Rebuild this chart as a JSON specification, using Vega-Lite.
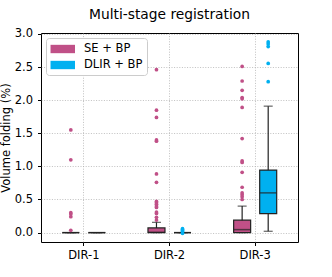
{
  "$schema": "https://vega.github.io/schema/vega-lite/v6.json",
  "width": 257,
  "height": 209,
  "autosize": {"type": "none"},
  "padding": {"left": 41, "top": 33, "right": 34, "bottom": 35},
  "title": {"text": "Multi-stage registration", "fontSize": 13.8, "fontWeight": "normal", "font": "DejaVu Sans", "color": "#000", "offset": 6, "anchor": "middle"},
  "datasets": {
    "boxes": [
      {"dir": "DIR-1", "method": "SE + BP", "lower": 0, "q1": 0, "median": 0, "q3": 0, "upper": 0},
      {"dir": "DIR-1", "method": "DLIR + BP", "lower": 0, "q1": 0, "median": 0, "q3": 0, "upper": 0},
      {"dir": "DIR-2", "method": "SE + BP", "lower": 0, "q1": 0, "median": 0.005, "q3": 0.07, "upper": 0.155},
      {"dir": "DIR-2", "method": "DLIR + BP", "lower": 0, "q1": 0, "median": 0, "q3": 0, "upper": 0},
      {"dir": "DIR-3", "method": "SE + BP", "lower": 0, "q1": 0, "median": 0.045, "q3": 0.187, "upper": 0.40},
      {"dir": "DIR-3", "method": "DLIR + BP", "lower": 0.02, "q1": 0.287, "median": 0.60, "q3": 0.945, "upper": 1.91}
    ],
    "outliers": [
      {"dir": "DIR-1", "method": "SE + BP", "value": 1.55},
      {"dir": "DIR-1", "method": "SE + BP", "value": 1.10},
      {"dir": "DIR-1", "method": "SE + BP", "value": 0.30},
      {"dir": "DIR-1", "method": "SE + BP", "value": 0.28},
      {"dir": "DIR-1", "method": "SE + BP", "value": 0.24},
      {"dir": "DIR-1", "method": "SE + BP", "value": 0.035},
      {"dir": "DIR-2", "method": "SE + BP", "value": 2.46},
      {"dir": "DIR-2", "method": "SE + BP", "value": 1.85},
      {"dir": "DIR-2", "method": "SE + BP", "value": 1.74},
      {"dir": "DIR-2", "method": "SE + BP", "value": 1.40},
      {"dir": "DIR-2", "method": "SE + BP", "value": 1.38},
      {"dir": "DIR-2", "method": "SE + BP", "value": 0.886},
      {"dir": "DIR-2", "method": "SE + BP", "value": 0.76},
      {"dir": "DIR-2", "method": "SE + BP", "value": 0.47},
      {"dir": "DIR-2", "method": "SE + BP", "value": 0.45},
      {"dir": "DIR-2", "method": "SE + BP", "value": 0.43},
      {"dir": "DIR-2", "method": "SE + BP", "value": 0.40},
      {"dir": "DIR-2", "method": "SE + BP", "value": 0.38},
      {"dir": "DIR-2", "method": "SE + BP", "value": 0.31},
      {"dir": "DIR-2", "method": "SE + BP", "value": 0.29},
      {"dir": "DIR-2", "method": "SE + BP", "value": 0.23},
      {"dir": "DIR-2", "method": "SE + BP", "value": 0.19},
      {"dir": "DIR-2", "method": "DLIR + BP", "value": 0.06},
      {"dir": "DIR-2", "method": "DLIR + BP", "value": 0.045},
      {"dir": "DIR-2", "method": "DLIR + BP", "value": 0.03},
      {"dir": "DIR-2", "method": "DLIR + BP", "value": 0.015},
      {"dir": "DIR-2", "method": "DLIR + BP", "value": -0.01},
      {"dir": "DIR-3", "method": "SE + BP", "value": 2.51},
      {"dir": "DIR-3", "method": "SE + BP", "value": 2.29},
      {"dir": "DIR-3", "method": "SE + BP", "value": 2.15},
      {"dir": "DIR-3", "method": "SE + BP", "value": 2.04},
      {"dir": "DIR-3", "method": "SE + BP", "value": 2.02},
      {"dir": "DIR-3", "method": "SE + BP", "value": 1.89},
      {"dir": "DIR-3", "method": "SE + BP", "value": 1.42},
      {"dir": "DIR-3", "method": "SE + BP", "value": 1.083},
      {"dir": "DIR-3", "method": "SE + BP", "value": 1.06},
      {"dir": "DIR-3", "method": "SE + BP", "value": 0.91},
      {"dir": "DIR-3", "method": "SE + BP", "value": 0.685},
      {"dir": "DIR-3", "method": "SE + BP", "value": 0.60},
      {"dir": "DIR-3", "method": "SE + BP", "value": 0.57},
      {"dir": "DIR-3", "method": "SE + BP", "value": 0.54},
      {"dir": "DIR-3", "method": "SE + BP", "value": 0.50},
      {"dir": "DIR-3", "method": "DLIR + BP", "value": 2.88},
      {"dir": "DIR-3", "method": "DLIR + BP", "value": 2.85},
      {"dir": "DIR-3", "method": "DLIR + BP", "value": 2.81},
      {"dir": "DIR-3", "method": "DLIR + BP", "value": 2.556},
      {"dir": "DIR-3", "method": "DLIR + BP", "value": 2.28}
    ]
  },
  "config": {
    "font": "DejaVu Sans",
    "view": {"stroke": "#000", "strokeWidth": 1},
    "axis": {
      "labelFont": "DejaVu Sans", "labelFontSize": 11.5, "labelColor": "#000",
      "titleFont": "DejaVu Sans", "titleFontSize": 11.5, "titleFontWeight": "normal", "titleColor": "#000",
      "tickColor": "#000", "tickSize": 3.5, "tickWidth": 1, "domain": false,
      "grid": true, "gridColor": "#b0b0b0", "gridDash": [1, 1.6], "gridWidth": 0.8
    },
    "axisY": {"labelPadding": 5, "titlePadding": 3, "labelOverlap": false},
    "axisX": {"labelAngle": 0, "labelPadding": 4}
  },
  "encoding": {
    "x": {"field": "dir", "type": "nominal", "title": null,
          "scale": {"domain": ["DIR-1", "DIR-2", "DIR-3"], "paddingInner": 0, "paddingOuter": 0}},
    "xOffset": {"field": "method", "type": "nominal",
                "scale": {"domain": ["SE + BP", "DLIR + BP"], "paddingInner": 0, "paddingOuter": 0.644}}
  },
  "layer": [
    {
      "data": {"name": "boxes"},
      "mark": {"type": "rule", "color": "#222", "strokeWidth": 1.2},
      "encoding": {
        "y": {"field": "lower", "type": "quantitative", "title": "Volume folding (%)",
              "scale": {"domain": [-0.142, 3.015], "nice": false, "zero": false},
              "axis": {"values": [0, 0.5, 1, 1.5, 2, 2.5, 3], "format": ".1f", "labelOverlap": false}},
        "y2": {"field": "upper"}
      }
    },
    {
      "data": {"name": "boxes"},
      "mark": {"type": "tick", "orient": "horizontal", "size": 9, "thickness": 1.2, "color": "#222"},
      "encoding": {"y": {"field": "lower", "type": "quantitative", "title": "Volume folding (%)",
                         "axis": {"values": [0, 0.5, 1, 1.5, 2, 2.5, 3], "format": ".1f", "labelOverlap": false}}}
    },
    {
      "data": {"name": "boxes"},
      "mark": {"type": "tick", "orient": "horizontal", "size": 9, "thickness": 1.2, "color": "#222"},
      "encoding": {"y": {"field": "upper", "type": "quantitative", "title": "Volume folding (%)",
                         "axis": {"values": [0, 0.5, 1, 1.5, 2, 2.5, 3], "format": ".1f", "labelOverlap": false}}}
    },
    {
      "data": {"name": "boxes"},
      "mark": {"type": "bar", "width": 17, "stroke": "#222", "strokeWidth": 1.2, "opacity": 1},
      "encoding": {
        "y": {"field": "q1", "type": "quantitative", "title": "Volume folding (%)",
              "axis": {"values": [0, 0.5, 1, 1.5, 2, 2.5, 3], "format": ".1f", "labelOverlap": false}},
        "y2": {"field": "q3"},
        "color": {"field": "method", "type": "nominal",
                  "scale": {"domain": ["SE + BP", "DLIR + BP"], "range": ["#c05087", "#00b0f0"]},
                  "legend": {"title": null, "orient": "top-left", "offset": 5, "padding": 4, "rowPadding": 3,
                             "symbolType": "M-0.96,-0.62H2.67V0.62H-0.96Z", "symbolSize": 182,
                             "symbolStrokeWidth": 0, "symbolOpacity": 1,
                             "labelFont": "DejaVu Sans", "labelFontSize": 11.5, "labelColor": "#000", "labelOffset": 20,
                             "strokeColor": "#cccccc", "fillColor": "#ffffff", "cornerRadius": 3}}
      }
    },
    {
      "data": {"name": "boxes"},
      "mark": {"type": "tick", "orient": "horizontal", "size": 17, "thickness": 1.5, "color": "#222"},
      "encoding": {"y": {"field": "median", "type": "quantitative", "title": "Volume folding (%)",
                         "axis": {"values": [0, 0.5, 1, 1.5, 2, 2.5, 3], "format": ".1f", "labelOverlap": false}}}
    },
    {
      "data": {"name": "outliers"},
      "mark": {"type": "circle", "size": 14, "opacity": 1},
      "encoding": {
        "y": {"field": "value", "type": "quantitative", "title": "Volume folding (%)",
              "axis": {"values": [0, 0.5, 1, 1.5, 2, 2.5, 3], "format": ".1f", "labelOverlap": false}},
        "color": {"field": "method", "type": "nominal"}
      }
    }
  ]
}
